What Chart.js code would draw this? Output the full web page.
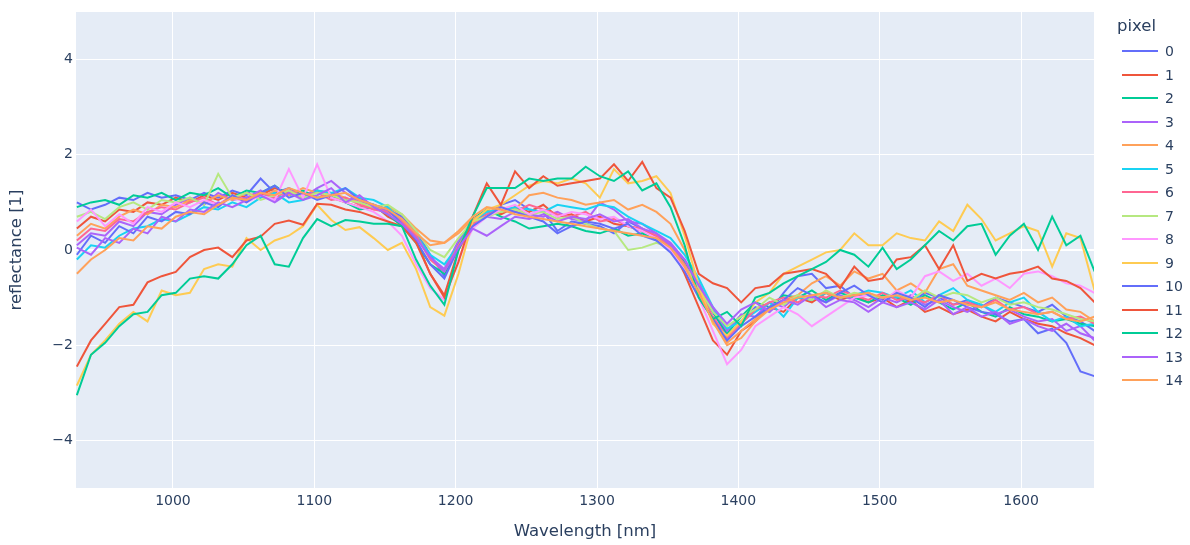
<!DOCTYPE html>
<html>
<head>
<meta charset="utf-8">
<script src="https://cdn.jsdelivr.net/npm/chart.js@4.4.1/dist/chart.umd.min.js"></script>
<style>
html,body{margin:0;padding:0;background:#ffffff;}
#wrap{position:relative;width:1190px;height:545px;overflow:hidden;}
#c{position:absolute;left:0;top:0;}
#legend{position:absolute;left:0;top:0;width:1190px;height:545px;pointer-events:none;font-family:"DejaVu Sans",Verdana,sans-serif;color:#2a3f5f;}
.lg-title{position:absolute;font-size:16.5px;line-height:20px;}
.lg-line{position:absolute;height:2px;}
.lg-text{position:absolute;font-size:14px;line-height:16px;}
</style>
</head>
<body>
<div id="wrap">
<canvas id="c" width="1190" height="545"></canvas>
<div id="legend"></div>
</div>
<script>
// ---- data ----
const wavelengths = [932,942,952,962,972,982,992,1002,1012,1022,1032,1042,1052,1062,1072,1082,1092,1102,1112,1122,1132,1142,1152,1162,1172,1182,1192,1202,1212,1222,1232,1242,1252,1262,1272,1282,1292,1302,1312,1322,1332,1342,1352,1362,1372,1382,1392,1402,1412,1422,1432,1442,1452,1462,1472,1482,1492,1502,1512,1522,1532,1542,1552,1562,1572,1582,1592,1602,1612,1622,1632,1642,1652];

const seriesNames = ["0","1","2","3","4","5","6","7","8","9","10","11","12","13","14"];
const legendTitle = "pixel";
const xTickValues = [1000,1100,1200,1300,1400,1500,1600];
const yTickValues = [-4,-2,0,2,4];
const xAxisTitle = "Wavelength [nm]";
const yAxisTitle = "reflectance [1]";

const pixel0 = [
 1.0, 0.85, 0.95, 1.1, 1.05, 1.2, 1.1, 1.15,
 1.05, 1.2, 1.1, 1.25, 1.15, 1.5, 1.2, 1.3, 1.15, 1.25,
 1.2, 1.05, 1.1, 0.9, 0.85, 0.7, 0.4, -0.1, -0.55, 0.1,
 0.6, 0.75, 0.95, 1.05, 0.85, 0.8, 0.4, 0.6, 0.55, 0.5,
 0.35, 0.6, 0.45, 0.25, 0.05, -0.4, -0.9, -1.3, -1.8, -1.5,
 -1.2, -1.3, -0.9, -0.55, -0.5, -0.8, -0.75, -1.0, -0.9, -1.05,
 -0.95, -1.1, -0.9, -1.0, -1.15, -1.05, -1.2, -1.0, -1.1, -1.2,
 -1.3, -1.15, -1.4, -1.5, -1.7];
const pixel1 = [
 0.45, 0.7, 0.6, 0.85, 0.8, 1.0, 0.95, 1.1,
 1.0, 1.15, 1.05, 1.2, 1.1, 1.15, 1.3, 1.2, 1.1, 1.25,
 1.1, 1.0, 0.9, 0.95, 0.7, 0.55, 0.2, -0.5, -0.95, 0.0,
 0.55, 0.85, 0.75, 0.9, 0.8, 0.95, 0.7, 0.75, 0.6, 0.7,
 0.55, 0.5, 0.4, 0.3, 0.1, -0.5, -1.2, -1.9, -2.2, -1.7,
 -1.5, -1.2, -1.3, -1.0, -1.1, -0.9, -1.05, -0.95, -1.1, -1.0,
 -1.2, -1.05, -1.3, -1.2, -1.35, -1.25, -1.4, -1.5, -1.3, -1.45,
 -1.55, -1.6, -1.75, -1.85, -2.0];
const pixel2 = [
 0.9, 1.0, 1.05, 0.95, 1.15, 1.1, 1.2, 1.05,
 1.2, 1.15, 1.3, 1.1, 1.25, 1.2, 1.35, 1.15, 1.25, 1.1,
 1.15, 1.0, 0.85, 0.9, 0.75, 0.5, 0.15, -0.3, -0.5, 0.15,
 0.65, 0.85, 0.7, 0.6, 0.45, 0.5, 0.55, 0.5, 0.4, 0.35,
 0.45, 0.3, 0.35, 0.2, 0.05, -0.25, -0.7, -1.3, -1.75, -1.4,
 -1.1, -1.2, -0.95, -1.0, -0.85, -1.05, -0.9, -1.0, -1.1, -0.95,
 -1.0, -1.15, -0.95, -1.1, -1.25, -1.1, -1.3, -1.4, -1.2, -1.35,
 -1.4, -1.5, -1.45, -1.55, -1.6];
const pixel3 = [
 0.1, 0.35, 0.3, 0.6, 0.5, 0.8, 0.75, 0.95,
 1.1, 0.95, 1.2, 1.05, 1.1, 1.25, 1.05, 1.2, 1.1, 1.3,
 1.45, 1.2, 1.0, 0.95, 0.8, 0.65, 0.3, -0.15, -0.4, 0.2,
 0.5, 0.7, 0.65, 0.8, 0.75, 0.7, 0.8, 0.65, 0.6, 1.0,
 0.85, 0.6, 0.55, 0.35, 0.15, -0.2, -0.7, -1.25, -1.7, -1.35,
 -1.4, -1.1, -1.2, -0.95, -1.0, -1.1, -0.95, -1.05, -1.2, -1.0,
 -1.1, -0.95, -1.15, -1.05, -1.2, -1.3, -1.15, -1.35, -1.25, -1.4,
 -1.5, -1.45, -1.7, -1.6, -1.9];
const pixel4 = [
 0.3, 0.55, 0.45, 0.7, 0.85, 0.75, 0.95, 0.9,
 1.05, 1.0, 1.15, 1.05, 1.2, 1.1, 1.25, 1.15, 1.3, 1.2,
 1.2, 1.1, 1.0, 0.85, 0.9, 0.75, 0.45, 0.2, 0.15, 0.35,
 0.65, 0.8, 0.9, 0.85, 1.15, 1.2, 1.1, 1.05, 0.95, 1.0,
 1.05, 0.85, 0.95, 0.8, 0.55, 0.0, -0.8, -1.5, -1.95, -1.7,
 -1.45, -1.2, -1.05, -0.95, -0.7, -0.55, -0.75, -0.45, -0.6, -0.5,
 -0.85, -0.7, -0.9, -0.4, -0.3, -0.75, -0.85, -0.95, -1.05, -0.9,
 -1.1, -1.0, -1.25, -1.3, -1.5];
const pixel5 = [
 -0.2, 0.1, 0.05, 0.3, 0.45, 0.5, 0.65, 0.6,
 0.75, 0.9, 0.85, 1.0, 0.9, 1.1, 1.2, 1.0, 1.05, 1.25,
 1.2, 1.3, 1.1, 1.05, 0.9, 0.6, 0.3, -0.1, -0.3, 0.1,
 0.6, 0.8, 0.85, 0.9, 0.85, 0.8, 0.95, 0.9, 0.85, 0.95,
 0.9, 0.7, 0.55, 0.4, 0.25, -0.1, -0.6, -1.2, -1.65, -1.5,
 -1.3, -1.1, -1.4, -1.0, -1.05, -0.9, -1.0, -0.95, -0.85, -0.9,
 -1.0, -0.85, -1.1, -0.95, -0.8, -1.05, -1.15, -1.3, -1.1, -1.0,
 -1.3, -1.5, -1.4, -1.6, -1.55];
const pixel6 = [
 0.2, 0.45, 0.4, 0.65, 0.6, 0.8, 0.9, 0.85,
 1.0, 1.1, 0.95, 1.15, 1.05, 1.2, 1.1, 1.25, 1.15, 1.2,
 1.05, 1.1, 0.95, 0.85, 0.8, 0.6, 0.3, -0.2, -0.45, 0.1,
 0.55, 0.75, 0.85, 0.8, 0.95, 0.85, 0.75, 0.7, 0.8, 0.6,
 0.65, 0.5, 0.45, 0.3, 0.1, -0.3, -0.85, -1.4, -1.85, -1.55,
 -1.25, -1.1, -1.0, -1.1, -0.95, -1.0, -0.85, -0.95, -1.05, -0.9,
 -1.05, -1.0, -1.1, -0.95, -1.15, -1.1, -1.2, -1.05, -1.25, -1.2,
 -1.35, -1.3, -1.45, -1.4, -1.55];
const pixel7 = [
 0.7, 0.8, 0.65, 0.9, 1.0, 0.85, 1.05, 1.0,
 1.1, 0.95, 1.6, 1.1, 1.2, 1.05, 1.15, 1.25, 1.1, 1.2,
 1.15, 1.05, 1.0, 0.9, 0.95, 0.75, 0.4, 0.0, -0.15, 0.25,
 0.6, 0.7, 0.8, 0.85, 0.75, 0.8, 0.65, 0.7, 0.55, 0.45,
 0.4, 0.0, 0.05, 0.15, 0.05, -0.35, -0.8, -1.3, -1.6, -1.4,
 -1.25, -1.0, -1.15, -0.95, -1.05, -0.85, -1.0, -0.9, -0.95, -1.0,
 -0.9, -1.05, -0.85, -1.0, -0.9, -0.95, -1.1, -1.0, -1.15, -1.1,
 -1.2, -1.25, -1.35, -1.45, -1.5];
const pixel8 = [
 0.6, 0.85, 0.5, 0.75, 0.55, 0.9, 0.8, 1.0,
 0.9, 1.05, 0.95, 1.1, 1.0, 1.15, 1.05, 1.7, 1.1, 1.8,
 1.1, 1.0, 0.9, 0.8, 0.6, 0.3, -0.3, -0.8, -1.05, -0.2,
 0.45, 0.7, 0.85, 0.95, 0.75, 0.85, 0.7, 0.8, 0.75, 0.65,
 0.7, 0.5, 0.4, 0.25, 0.0, -0.4, -1.0, -1.7, -2.4, -2.1,
 -1.6, -1.4, -1.2, -1.35, -1.6, -1.4, -1.2, -1.0, -0.95, -1.1,
 -0.85, -1.0, -0.55, -0.45, -0.65, -0.5, -0.75, -0.6, -0.8, -0.5,
 -0.45, -0.55, -0.7, -0.75, -0.9];
const pixel9 = [
 -2.85, -2.2, -1.9, -1.55, -1.3, -1.5, -0.85, -0.95,
 -0.9, -0.4, -0.3, -0.35, 0.25, 0.0, 0.2, 0.3, 0.5, 0.95,
 0.63, 0.42, 0.48, 0.25, 0.0, 0.15, -0.4, -1.2, -1.38, -0.5,
 0.6, 0.85, 0.95, 1.15, 1.35, 1.45, 1.4, 1.5, 1.4, 1.1,
 1.7, 1.4, 1.45, 1.55, 1.2, 0.3, -0.75, -1.55, -1.8, -1.5,
 -1.1, -0.9, -0.5, -0.35, -0.2, -0.05, 0.0, 0.35, 0.1, 0.1,
 0.35, 0.25, 0.2, 0.6, 0.4, 0.95, 0.65, 0.2, 0.35, 0.5,
 0.4, -0.35, 0.35, 0.25, -0.85];
const pixel10 = [
 -0.1, 0.3, 0.15, 0.5, 0.35, 0.7, 0.6, 0.8,
 0.75, 1.0, 0.9, 1.15, 1.0, 1.2, 1.35, 1.1, 1.2, 1.05,
 1.15, 1.3, 1.05, 0.95, 0.85, 0.55, 0.2, -0.3, -0.6, 0.05,
 0.5, 0.7, 0.9, 0.8, 0.7, 0.6, 0.35, 0.5, 0.6, 0.55,
 0.45, 0.55, 0.3, 0.2, -0.05, -0.45, -1.0, -1.45, -1.9, -1.6,
 -1.4, -1.2, -1.05, -0.8, -0.95, -1.1, -0.9, -0.75, -0.95, -1.1,
 -0.9, -1.0, -1.2, -0.95, -1.05, -1.2, -1.3, -1.35, -1.5, -1.45,
 -1.75, -1.65, -1.95, -2.55, -2.65];
const pixel11 = [
 -2.45, -1.9, -1.55, -1.2, -1.15, -0.68, -0.55, -0.46,
 -0.15, 0.0, 0.05, -0.15, 0.2, 0.28, 0.55, 0.62, 0.53, 0.97,
 0.95, 0.85, 0.8, 0.7, 0.6, 0.5, 0.15, -0.5, -1.0, -0.25,
 0.7, 1.4, 0.95, 1.65, 1.3, 1.55, 1.35, 1.4, 1.45, 1.5,
 1.8, 1.45, 1.85, 1.3, 1.1, 0.4, -0.5, -0.7, -0.8, -1.1,
 -0.8, -0.75, -0.5, -0.45, -0.4, -0.5, -0.8, -0.35, -0.65, -0.6,
 -0.2, -0.15, 0.1, -0.4, 0.1, -0.65, -0.5, -0.6, -0.5, -0.45,
 -0.35, -0.6, -0.65, -0.8, -1.1];
const pixel12 = [
 -3.05, -2.2, -1.95, -1.6, -1.35, -1.3, -0.95, -0.9,
 -0.6, -0.55, -0.6, -0.3, 0.1, 0.3, -0.3, -0.35, 0.25, 0.65,
 0.5, 0.63, 0.6, 0.55, 0.55, 0.5, -0.2, -0.75, -1.15, 0.0,
 0.7, 1.3, 1.3, 1.3, 1.5, 1.45, 1.5, 1.5, 1.75, 1.55,
 1.45, 1.65, 1.25, 1.4, 0.9, 0.1, -1.0, -1.45, -1.3, -1.6,
 -1.0, -0.9, -0.7, -0.55, -0.4, -0.25, 0.0, -0.1, -0.35, 0.05,
 -0.4, -0.2, 0.1, 0.4, 0.2, 0.5, 0.55, -0.1, 0.3, 0.55,
 0.0, 0.7, 0.1, 0.3, -0.45];
const pixel13 = [
 0.05, -0.1, 0.25, 0.15, 0.45, 0.35, 0.7, 0.6,
 0.85, 0.8, 1.0, 0.9, 1.05, 1.15, 1.0, 1.2, 1.05, 1.15,
 1.3, 1.0, 1.15, 0.9, 0.75, 0.55, 0.25, -0.15, -0.45, 0.05,
 0.45, 0.3, 0.5, 0.7, 0.65, 0.75, 0.6, 0.7, 0.65, 0.75,
 0.6, 0.65, 0.45, 0.35, 0.1, -0.2, -0.75, -1.2, -1.55, -1.25,
 -1.1, -1.3, -1.05, -1.15, -0.95, -1.2, -1.05, -1.1, -1.3, -1.1,
 -1.2, -1.1, -1.25, -1.05, -1.35, -1.2, -1.4, -1.3, -1.55, -1.45,
 -1.6, -1.7, -1.55, -1.75, -1.85];
const pixel14 = [
 -0.5, -0.2, 0.0, 0.25, 0.2, 0.5, 0.45, 0.7,
 0.8, 0.75, 0.95, 1.1, 1.05, 1.2, 1.15, 1.3, 1.2, 1.1,
 1.15, 1.2, 1.05, 0.95, 0.85, 0.65, 0.35, 0.1, 0.15, 0.4,
 0.7, 0.9, 0.85, 0.75, 0.7, 0.65, 0.6, 0.55, 0.5, 0.45,
 0.4, 0.35, 0.3, 0.25, 0.05, -0.35, -0.9, -1.5, -2.0, -1.85,
 -1.5, -1.25, -1.1, -1.0, -0.95, -0.9, -1.0, -0.95, -0.9, -1.0,
 -0.95, -1.05, -1.0, -1.1, -1.05, -1.15, -1.2, -1.1, -1.25, -1.3,
 -1.35, -1.3, -1.45, -1.5, -1.4];

const seriesValues = [pixel0,pixel1,pixel2,pixel3,pixel4,pixel5,pixel6,pixel7,pixel8,pixel9,pixel10,pixel11,pixel12,pixel13,pixel14];
const palette = ['#636EFA','#EF553B','#00CC96','#AB63FA','#FFA15A','#19D3F3','#FF6692','#B6E880','#FF97FF','#FECB52'];

// ---- chart ----
const FONT = '"DejaVu Sans", Verdana, sans-serif';
const TEXT = '#2a3f5f';

const datasets = seriesNames.map((name, i) => ({
  label: name,
  data: wavelengths.map((w, k) => ({x: w, y: seriesValues[i][k]})),
  borderColor: palette[i % palette.length],
  backgroundColor: palette[i % palette.length],
  borderWidth: 2,
  pointRadius: 0,
  pointHoverRadius: 0,
  tension: 0,
  fill: false,
  order: seriesNames.length - 1 - i
}));

const bgPlugin = {
  id: 'plotBg',
  beforeDraw(chart) {
    const {ctx, chartArea: a} = chart;
    ctx.save();
    ctx.fillStyle = '#E5ECF6';
    ctx.fillRect(a.left, a.top, a.right - a.left, a.bottom - a.top);
    ctx.restore();
  }
};

new Chart(document.getElementById('c'), {
  type: 'line',
  data: { datasets },
  plugins: [bgPlugin],
  options: {
    responsive: false,
    animation: false,
    devicePixelRatio: 1,
    layout: { padding: { top: 12, right: 96, left: 0, bottom: 0 } },
    plugins: { legend: { display: false }, tooltip: { enabled: false } },
    scales: {
      x: {
        type: 'linear',
        min: 931.4, max: 1651.6,
        afterFit(s) { s.height = 57; },
        afterBuildTicks(s) { s.ticks = xTickValues.map(v => ({value: v})); },
        border: { display: false },
        grid: { color: '#ffffff', lineWidth: 1, drawTicks: false },
        ticks: { color: TEXT, font: { family: FONT, size: 14 }, padding: 5, maxRotation: 0, callback: v => String(v) },
        title: { display: true, text: xAxisTitle, color: TEXT, font: { family: FONT, size: 16.5 }, padding: { top: 4, bottom: 3 } }
      },
      y: {
        type: 'linear',
        min: -5, max: 5,
        afterFit(s) { s.width = 76; },
        afterBuildTicks(s) { s.ticks = yTickValues.map(v => ({value: v})); },
        border: { display: false },
        grid: { color: '#ffffff', lineWidth: c => (c.tick && c.tick.value === 0 ? 2 : 1), drawTicks: false },
        ticks: { color: TEXT, font: { family: FONT, size: 14 }, padding: 3, callback: v => (v < 0 ? '\u2212' + Math.abs(v) : String(v)) },
        title: { display: true, text: yAxisTitle, color: TEXT, font: { family: FONT, size: 16.5 }, padding: { top: 7, bottom: 4 } }
      }
    }
  }
});

// ---- legend (HTML text) ----
const lg = document.getElementById('legend');
const t = document.createElement('div');
t.className = 'lg-title';
t.textContent = legendTitle;
t.style.left = '1117px';
t.style.top = (27 - 11) + 'px';
lg.appendChild(t);
seriesNames.forEach((name, i) => {
  const cy = 51 + 23.5 * i;
  const ln = document.createElement('div');
  ln.className = 'lg-line';
  ln.style.left = '1122px';
  ln.style.width = '36px';
  ln.style.top = (cy - 1) + 'px';
  ln.style.background = palette[i % palette.length];
  lg.appendChild(ln);
  const tx = document.createElement('div');
  tx.className = 'lg-text';
  tx.textContent = name;
  tx.style.left = '1165px';
  tx.style.top = (cy - 8) + 'px';
  lg.appendChild(tx);
});
</script>
</body>
</html>
